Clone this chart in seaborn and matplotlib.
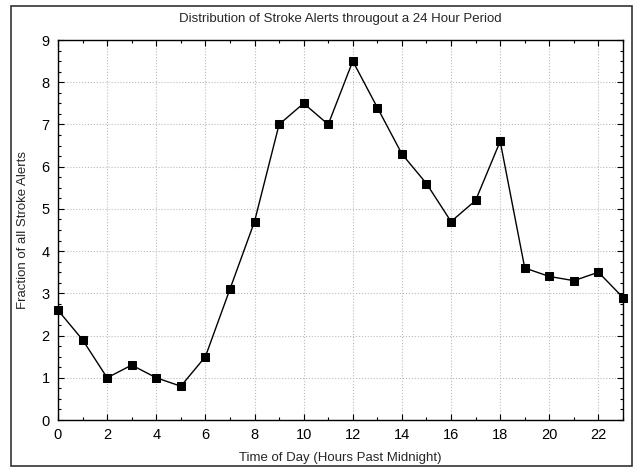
import pandas as pd
import matplotlib.pyplot as plt
import seaborn as sns
from matplotlib.patches import Rectangle
from matplotlib.ticker import MultipleLocator

# data
hours = list(range(24))
fraction = [2.6, 1.9, 1.0, 1.3, 1.0, 0.8, 1.5, 3.1, 4.7, 7.0, 7.5, 7.0,
            8.5, 7.4, 6.3, 5.6, 4.7, 5.2, 6.6, 3.6, 3.4, 3.3, 3.5, 2.9]

df = pd.DataFrame({"hour": hours, "fraction": fraction})

sns.set_style("ticks")
plt.rcParams['font.family'] = ['Liberation Sans', 'DejaVu Sans']

fig = plt.figure(figsize=(6.37, 4.72), dpi=100)
ax = fig.add_axes([58 / 637, 52 / 472, 565 / 637, 380 / 472])

sns.lineplot(data=df, x="hour", y="fraction", ax=ax, color="black",
             linewidth=1.0, marker="s", markersize=6, markeredgecolor="black",
             clip_on=False, zorder=3)

ax.set_xlim(0, 23)
ax.set_ylim(0, 9)
ax.xaxis.set_major_locator(MultipleLocator(2))
ax.xaxis.set_minor_locator(MultipleLocator(1))
ax.yaxis.set_major_locator(MultipleLocator(1))
ax.yaxis.set_minor_locator(MultipleLocator(0.25))
ax.tick_params(which="both", direction="in", top=True, right=True,
               labelsize=10.5, colors="black", width=0.8, pad=6)
ax.tick_params(which="major", length=4)
ax.tick_params(which="minor", length=2.5)
ax.grid(True, which="major", color="#bbbbbb", linestyle=":", linewidth=0.8)
for s in ax.spines.values():
    s.set_color("black")
    s.set_linewidth(1.0)

ax.set_title("Distribution of Stroke Alerts througout a 24 Hour Period",
             fontsize=9.5, pad=13)
ax.set_xlabel("Time of Day (Hours Past Midnight)", fontsize=9.5, labelpad=7)
ax.set_ylabel("Fraction of all Stroke Alerts", fontsize=9.5, labelpad=9)

# outer frame around the whole figure
fig.patches.append(Rectangle((11 / 637, 6 / 472), 621 / 637, 460 / 472,
                             transform=fig.transFigure, fill=False,
                             edgecolor="#333333", linewidth=1.2))

fig.savefig("out.png", dpi=100)
